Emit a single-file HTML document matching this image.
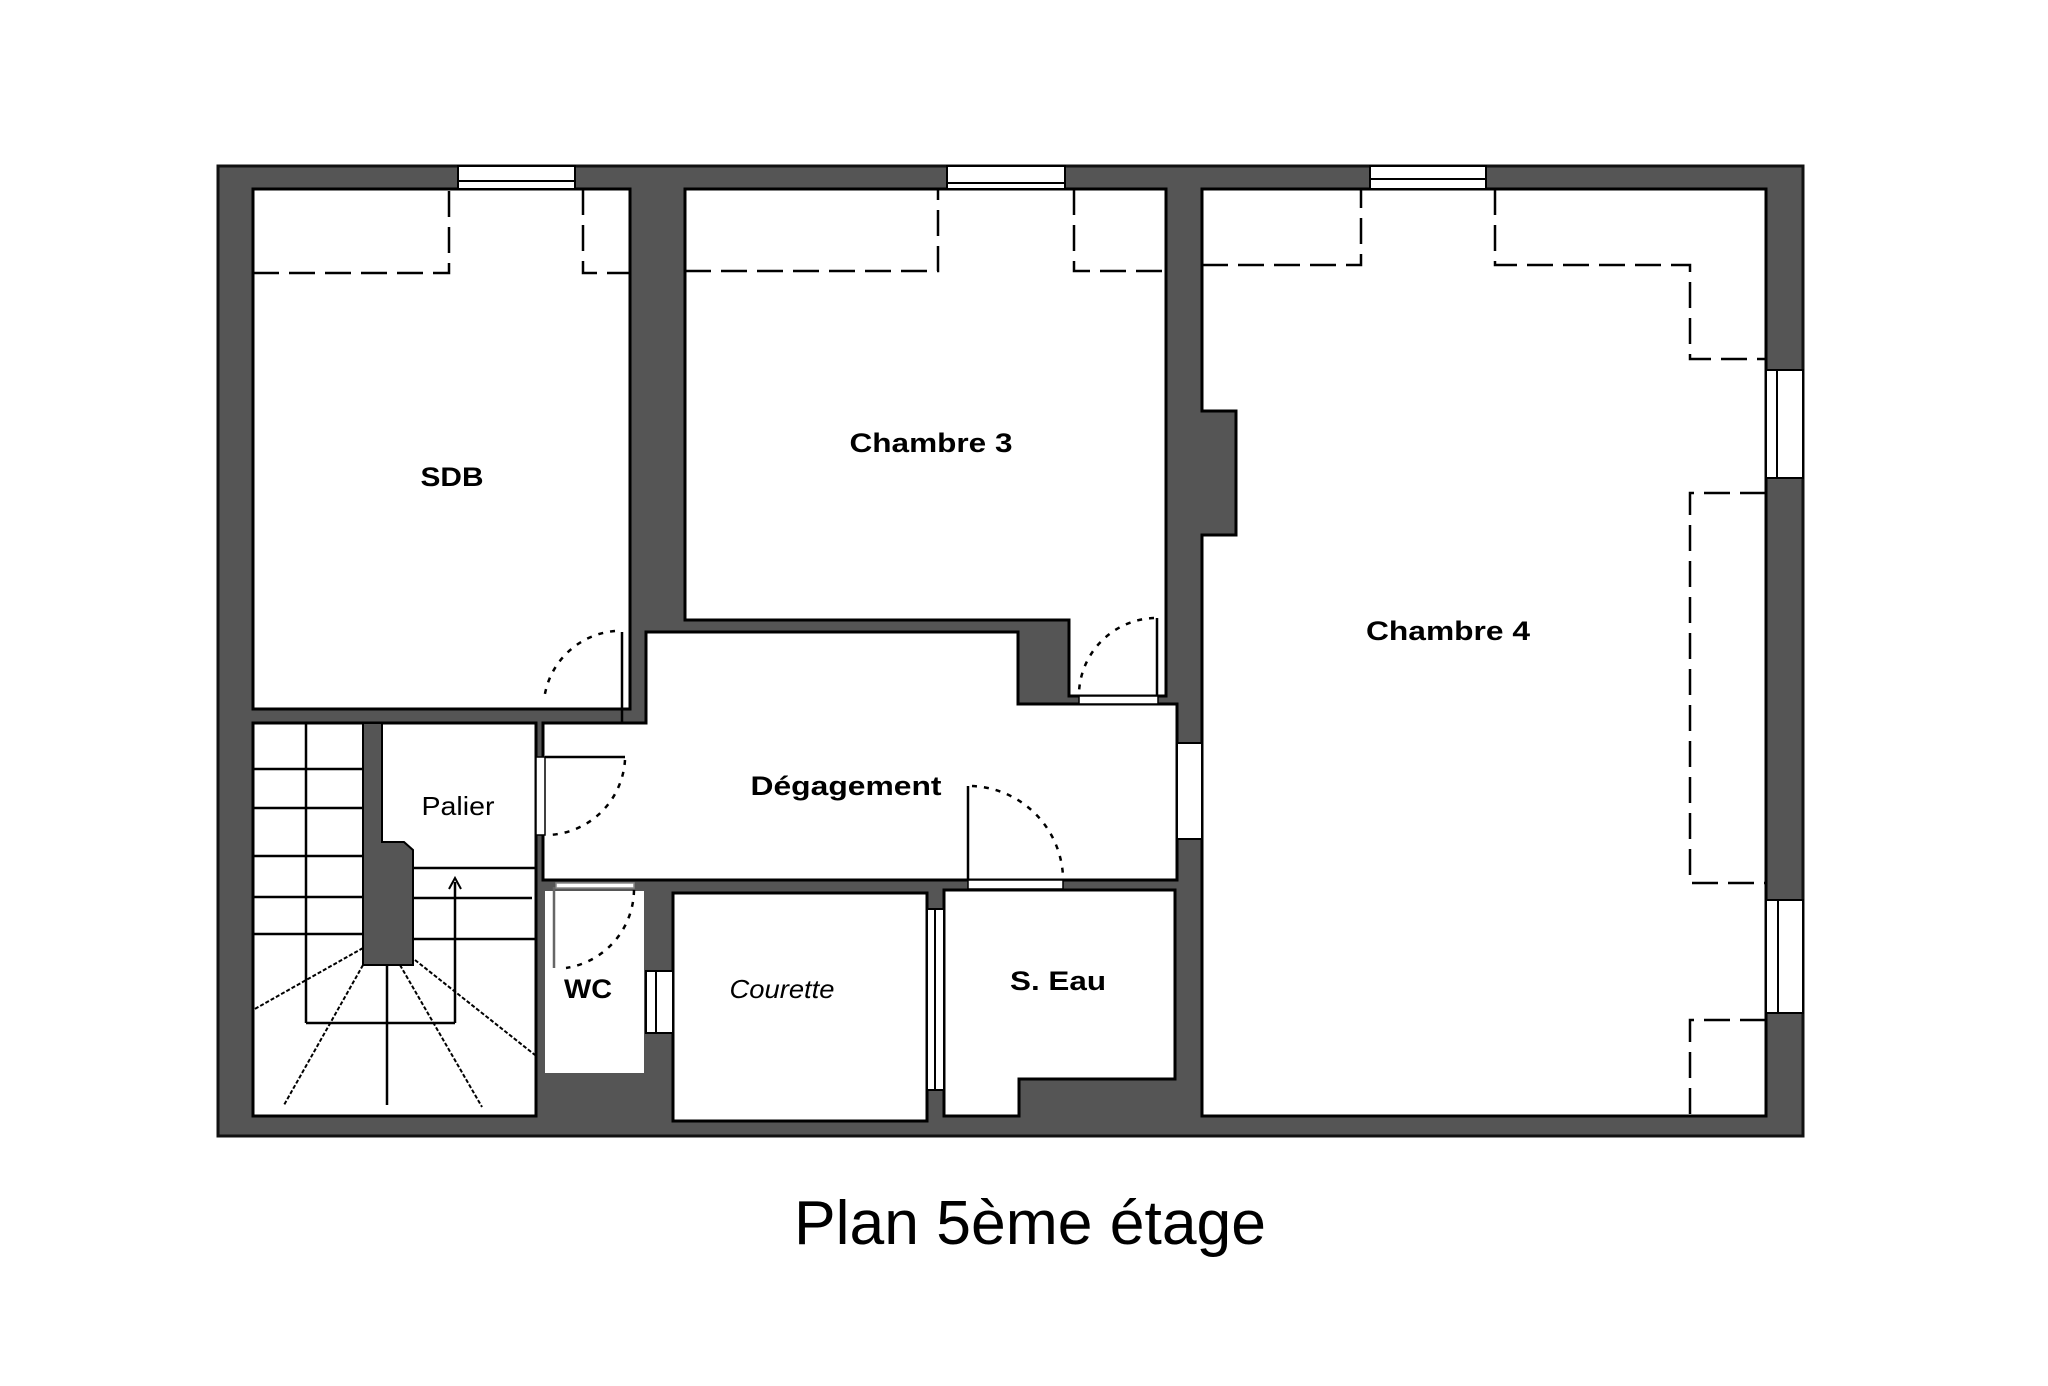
<!DOCTYPE html>
<html><head><meta charset="utf-8"><style>
html,body{margin:0;padding:0;background:#fff;}
svg{display:block;}
text{font-family:"Liberation Sans",sans-serif;}
</style></head><body>
<svg width="2048" height="1386" viewBox="0 0 2048 1386" xmlns="http://www.w3.org/2000/svg">
<rect width="2048" height="1386" fill="#fff"/>
<!-- outer walls -->
<rect x="218" y="166" width="1585" height="970" fill="#555" stroke="#111" stroke-width="3"/>
<g fill="#fff" stroke="#000" stroke-width="3">
<!-- SDB -->
<rect x="253" y="189" width="377" height="520"/>
<!-- Chambre 3 -->
<polygon points="685,189 1166,189 1166,696 1069,696 1069,620 685,620"/>
<!-- Chambre 4 -->
<polygon points="1202,189 1766,189 1766,1116 1202,1116 1202,535 1236,535 1236,411 1202,411"/>
<!-- Degagement -->
<polygon points="646,632 1018,632 1018,704 1177,704 1177,880 543,880 543,723 646,723"/>
<!-- Stair + palier -->
<rect x="253" y="723" width="283" height="393"/>
<!-- Courette -->
<rect x="673" y="893" width="254" height="228"/>
<!-- S. Eau -->
<polygon points="944,890 1175,890 1175,1079 1019,1079 1019,1116 944,1116"/>
</g>
<!-- WC -->
<rect x="545" y="891" width="99" height="182" fill="#fff"/>
<!-- pillar in stair -->
<polygon points="363,723 382,723 382,842 404,842 413,850 413,965 363,965" fill="#555" stroke="#000" stroke-width="2"/>
<!-- stair lines -->
<g stroke="#000" stroke-width="2.5" fill="none">
<line x1="306" y1="723" x2="306" y2="1023"/>
<line x1="253" y1="769" x2="363" y2="769"/>
<line x1="253" y1="808" x2="363" y2="808"/>
<line x1="253" y1="856" x2="363" y2="856"/>
<line x1="253" y1="897" x2="363" y2="897"/>
<line x1="253" y1="934" x2="363" y2="934"/>
<line x1="413" y1="868" x2="536" y2="868"/>
<line x1="413" y1="898" x2="532" y2="898"/>
<line x1="413" y1="939" x2="536" y2="939"/>
<line x1="455" y1="882" x2="455" y2="1023"/>
<line x1="306" y1="1023" x2="455" y2="1023"/>
<line x1="387" y1="965" x2="387" y2="1105"/>
</g>
<path d="M449,889 L455,878 L461,889" stroke="#000" stroke-width="2" fill="none"/>
<g stroke="#000" stroke-width="2" fill="none" stroke-dasharray="4,2">
<line x1="363" y1="948" x2="253" y2="1010"/>
<line x1="363" y1="965" x2="284" y2="1105"/>
<line x1="400" y1="965" x2="482" y2="1107"/>
<line x1="415" y1="960" x2="535" y2="1055"/>
</g>
<!-- windows -->
<g fill="#fff" stroke="#000" stroke-width="2">
<rect x="458" y="166" width="117" height="23"/><line x1="458" y1="181" x2="575" y2="181"/>
<rect x="947" y="166" width="118" height="23"/><line x1="947" y1="183" x2="1065" y2="183"/>
<rect x="1370" y="166" width="116" height="23"/><line x1="1370" y1="179" x2="1486" y2="179"/>
<rect x="1766" y="370" width="37" height="108"/><line x1="1777" y1="370" x2="1777" y2="478"/>
<rect x="1766" y="900" width="37" height="113"/><line x1="1778" y1="900" x2="1778" y2="1013"/>
<rect x="1177" y="743" width="25" height="96"/>
<rect x="646" y="971" width="27" height="62"/><line x1="656" y1="971" x2="656" y2="1033"/>
<rect x="927" y="909" width="17" height="181"/><line x1="935" y1="909" x2="935" y2="1090"/>
</g>
<!-- door openings -->
<g fill="#fff" stroke="#000" stroke-width="1.5">
<rect x="1079" y="696" width="79" height="8"/>
<rect x="536" y="757" width="9" height="78"/>
<rect x="556" y="883" width="78" height="5" stroke="#888"/>
<rect x="968" y="880" width="95" height="9"/>
</g>
<!-- door leaves -->
<g stroke="#000" stroke-width="2.5" fill="none">
<line x1="622" y1="632" x2="622" y2="722"/>
<line x1="1157" y1="618" x2="1157" y2="696"/>
<line x1="545" y1="757" x2="625" y2="757"/>
<line x1="554" y1="887" x2="554" y2="968" stroke="#666"/>
<line x1="968" y1="786" x2="968" y2="880"/>
</g>
<g stroke="#000" stroke-width="2.5" fill="none" stroke-dasharray="5,7">
<path d="M615,631 A78,78 0 0 0 544,700"/>
<path d="M1154,618 A78,78 0 0 0 1079,692"/>
<path d="M625,760 A80,80 0 0 1 548,835"/>
<path d="M634,890 A80,80 0 0 1 566,968"/>
<path d="M972,786 A95,95 0 0 1 1063,876"/>
</g>
<!-- dashed furniture -->
<g stroke="#000" stroke-width="2.5" fill="none" stroke-dasharray="26,10">
<polyline points="253,273 449,273 449,189"/>
<polyline points="583,189 583,273 629,273"/>
<polyline points="685,271 938,271 938,189"/>
<polyline points="1074,189 1074,271 1166,271"/>
<polyline points="1202,265 1361,265 1361,189"/>
<polyline points="1495,189 1495,265 1690,265 1690,359 1766,359"/>
<polyline points="1766,493 1690,493 1690,883 1766,883"/>
<polyline points="1766,1020 1690,1020 1690,1120"/>
</g>
<!-- labels -->
<g font-weight="bold" font-size="27" fill="#000" text-anchor="middle">
<text x="452" y="486" textLength="63" lengthAdjust="spacingAndGlyphs">SDB</text>
<text x="931" y="452" textLength="163" lengthAdjust="spacingAndGlyphs">Chambre 3</text>
<text x="1448" y="640" textLength="164" lengthAdjust="spacingAndGlyphs">Chambre 4</text>
<text x="846" y="795" textLength="191" lengthAdjust="spacingAndGlyphs">Dégagement</text>
<text x="588" y="998" textLength="48" lengthAdjust="spacingAndGlyphs">WC</text>
<text x="1058" y="990" textLength="96" lengthAdjust="spacingAndGlyphs">S. Eau</text>
</g>
<text x="458" y="815" font-size="26" text-anchor="middle" textLength="73" lengthAdjust="spacingAndGlyphs">Palier</text>
<text x="782" y="998" font-size="26" font-style="italic" text-anchor="middle" textLength="105" lengthAdjust="spacingAndGlyphs">Courette</text>
<text x="1030" y="1244" font-size="62" text-anchor="middle" textLength="472" lengthAdjust="spacingAndGlyphs">Plan 5ème étage</text>
</svg>
</body></html>
